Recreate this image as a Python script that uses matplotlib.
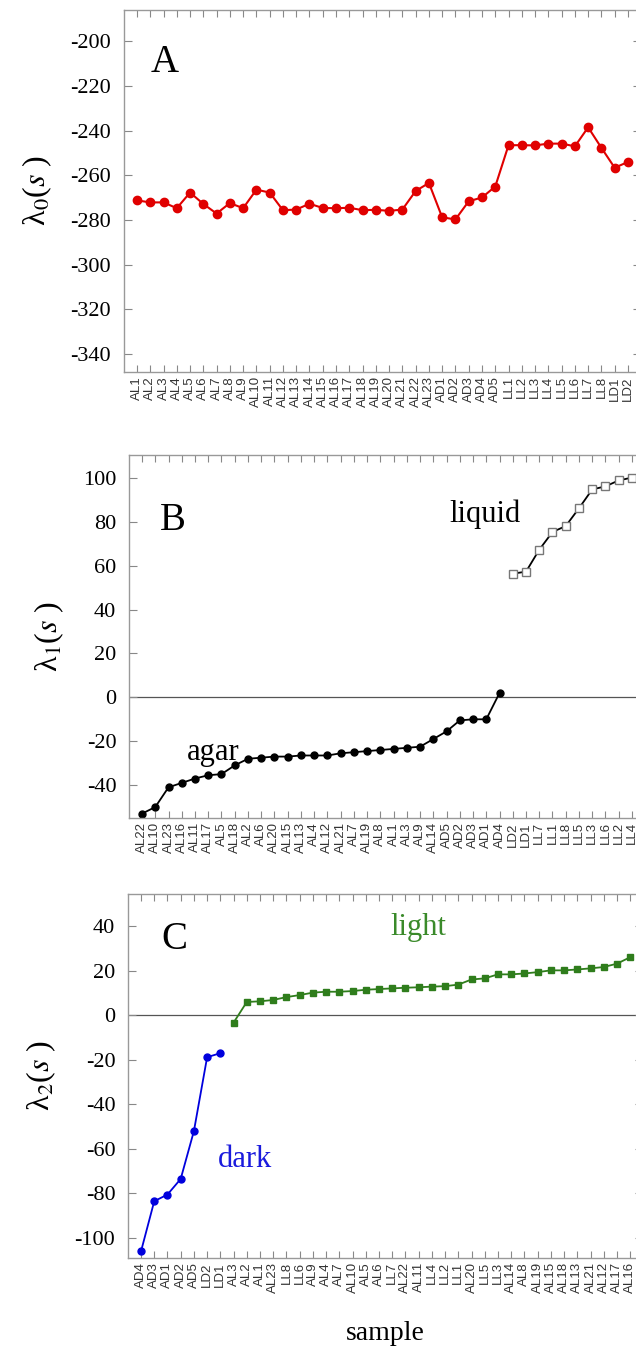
import matplotlib
matplotlib.use("Agg")
import matplotlib.pyplot as plt
import numpy as np

plt.rcParams['font.family'] = ['Liberation Serif', 'DejaVu Serif']
plt.rcParams['mathtext.fontset'] = 'stix'

# panel A: lambda_0 per sample
a_labels = ['AL1', 'AL2', 'AL3', 'AL4', 'AL5', 'AL6', 'AL7', 'AL8', 'AL9', 'AL10',
            'AL11', 'AL12', 'AL13', 'AL14', 'AL15', 'AL16', 'AL17', 'AL18', 'AL19',
            'AL20', 'AL21', 'AL22', 'AL23', 'AD1', 'AD2', 'AD3', 'AD4', 'AD5',
            'LL1', 'LL2', 'LL3', 'LL4', 'LL5', 'LL6', 'LL7', 'LL8', 'LD1', 'LD2']
a_values = [-271.2, -272.1, -272.1, -274.7, -267.7, -272.8, -277.1, -272.4, -274.7,
            -266.4, -267.7, -275.6, -275.3, -272.7, -274.6, -274.7, -274.5, -275.6,
            -275.4, -275.9, -275.3, -267.0, -263.4, -278.8, -279.7, -271.6, -269.9,
            -265.0, -246.5, -246.5, -246.6, -245.8, -245.8, -247.0, -238.5, -247.7,
            -256.6, -254.0]

# panel B: lambda_1 sorted, agar vs liquid
b_labels = ['AL22', 'AL10', 'AL23', 'AL16', 'AL11', 'AL17', 'AL5', 'AL18', 'AL2',
            'AL6', 'AL20', 'AL15', 'AL13', 'AL4', 'AL12', 'AL21', 'AL7', 'AL19',
            'AL8', 'AL1', 'AL3', 'AL9', 'AL14', 'AD5', 'AD2', 'AD3', 'AD1', 'AD4',
            'LD2', 'LD1', 'LL7', 'LL1', 'LL8', 'LL5', 'LL3', 'LL6', 'LL2', 'LL4']
b_agar = [-53, -50, -41, -39, -37, -35.5, -35, -31, -28, -27.5, -27, -27, -26.5,
          -26.5, -26.5, -25.5, -25, -24.5, -24, -23.5, -23, -22.5, -19, -15.5,
          -10.5, -10, -10, 2]
b_liquid = [56.4, 57.3, 67.3, 75.4, 78.1, 86.2, 94.8, 96.2, 98.9, 100.2]

# panel C: lambda_2 sorted, dark vs light
c_labels = ['AD4', 'AD3', 'AD1', 'AD2', 'AD5', 'LD2', 'LD1', 'AL3', 'AL2', 'AL1',
            'AL23', 'LL8', 'LL6', 'AL9', 'AL4', 'AL7', 'AL10', 'AL5', 'AL6', 'LL7',
            'AL22', 'AL11', 'LL4', 'LL2', 'LL1', 'AL20', 'LL5', 'LL3', 'AL14', 'AL8',
            'AL19', 'AL15', 'AL18', 'AL13', 'AL21', 'AL12', 'AL17', 'AL16']
c_dark = [-106, -83.5, -80.5, -73.5, -52, -18.8, -17]
c_light = [-3.3, 6.0, 6.3, 6.9, 8.2, 9.1, 10.2, 10.6, 10.6, 10.9, 11.5, 11.8, 12.1,
           12.4, 12.6, 12.9, 13.1, 13.8, 16.1, 16.6, 18.4, 18.4, 18.8, 19.4, 20.2,
           20.2, 20.6, 21.1, 21.7, 23.2, 26.1]

W, H = 636, 1348
fig = plt.figure(figsize=(W / 100, H / 100), dpi=100)


def make_axes(left, top, bottom, spacing):
    return fig.add_axes([left / W, 1 - bottom / H, spacing * 39 / W, (bottom - top) / H])


def style(ax, labels, yticks, ylim):
    x = np.arange(1, len(labels) + 1)
    ax.set_xlim(0, 39)
    ax.set_ylim(*ylim)
    ax.set_xticks(x)
    ax.set_xticklabels(labels, rotation=90, fontsize=9.5, family='Liberation Sans',
                       color='#333333')
    ax.set_yticks(yticks)
    ax.set_yticklabels([str(v) for v in yticks], fontsize=16)
    ax.tick_params(axis='x', direction='in', length=5, width=0.8, color='#888888',
                   top=True, pad=3)
    ax.tick_params(axis='y', direction='in', length=6, width=0.8, color='#888888',
                   right=True, pad=9)
    for s in ax.spines.values():
        s.set_color('#999999')
        s.set_linewidth(1.0)
    return x


def ylab(ax, k):
    ax.set_ylabel('λ$_{%d}$($s$ )' % k, fontsize=23, labelpad=12)


# A
ax = make_axes(123.7, 10, 372, 13.27)
x = style(ax, a_labels, list(range(-340, -199, 20)), (-348, -186))
ax.plot(x, a_values, '-o', color='#e00000', ms=6, lw=1.5)
ax.text(0.08, 0.855, 'A', transform=ax.transAxes, fontsize=28, ha='center', va='center')
ylab(ax, 0)

# B
ax = make_axes(128.8, 455, 818, 13.24)
x = style(ax, b_labels, list(range(-40, 101, 20)), (-55, 110.5))
ax.axhline(0, color='#555555', lw=0.9, zorder=1)
n = len(b_agar)
ax.plot(x[:n], b_agar, '-o', color='black', ms=5, lw=1.3)
ax.plot(x[n:], b_liquid, '-s', color='black', ms=6, lw=1.3, mfc='white', mec='#777777')
ax.text(0.085, 0.82, 'B', transform=ax.transAxes, fontsize=28, ha='center', va='center')
ax.text(26.9, 83.5, 'liquid', fontsize=22, ha='center', va='center')
ax.text(6.4, -25, 'agar', fontsize=22, ha='center', va='center')
ylab(ax, 1)

# C
ax = make_axes(127.8, 894, 1258, 13.22)
x = style(ax, c_labels, list(range(-100, 41, 20)), (-109, 54.5))
ax.axhline(0, color='#555555', lw=0.9, zorder=1)
n = len(c_dark)
ax.plot(x[:n], c_dark, '-o', color='#0000dd', ms=5, lw=1.3)
ax.plot(x[n:], c_light, '-s', color='#2f7d1c', ms=5, lw=1.3)
ax.text(0.09, 0.874, 'C', transform=ax.transAxes, fontsize=28, ha='center', va='center')
ax.text(22, 39.5, 'light', fontsize=22, ha='center', va='center', color='#3a8a2a')
ax.text(8.9, -64.6, 'dark', fontsize=22, ha='center', va='center', color='#1a1add')
ylab(ax, 2)
ax.set_xlabel('sample', fontsize=20, labelpad=20)

fig.savefig('out.png', dpi=100)
